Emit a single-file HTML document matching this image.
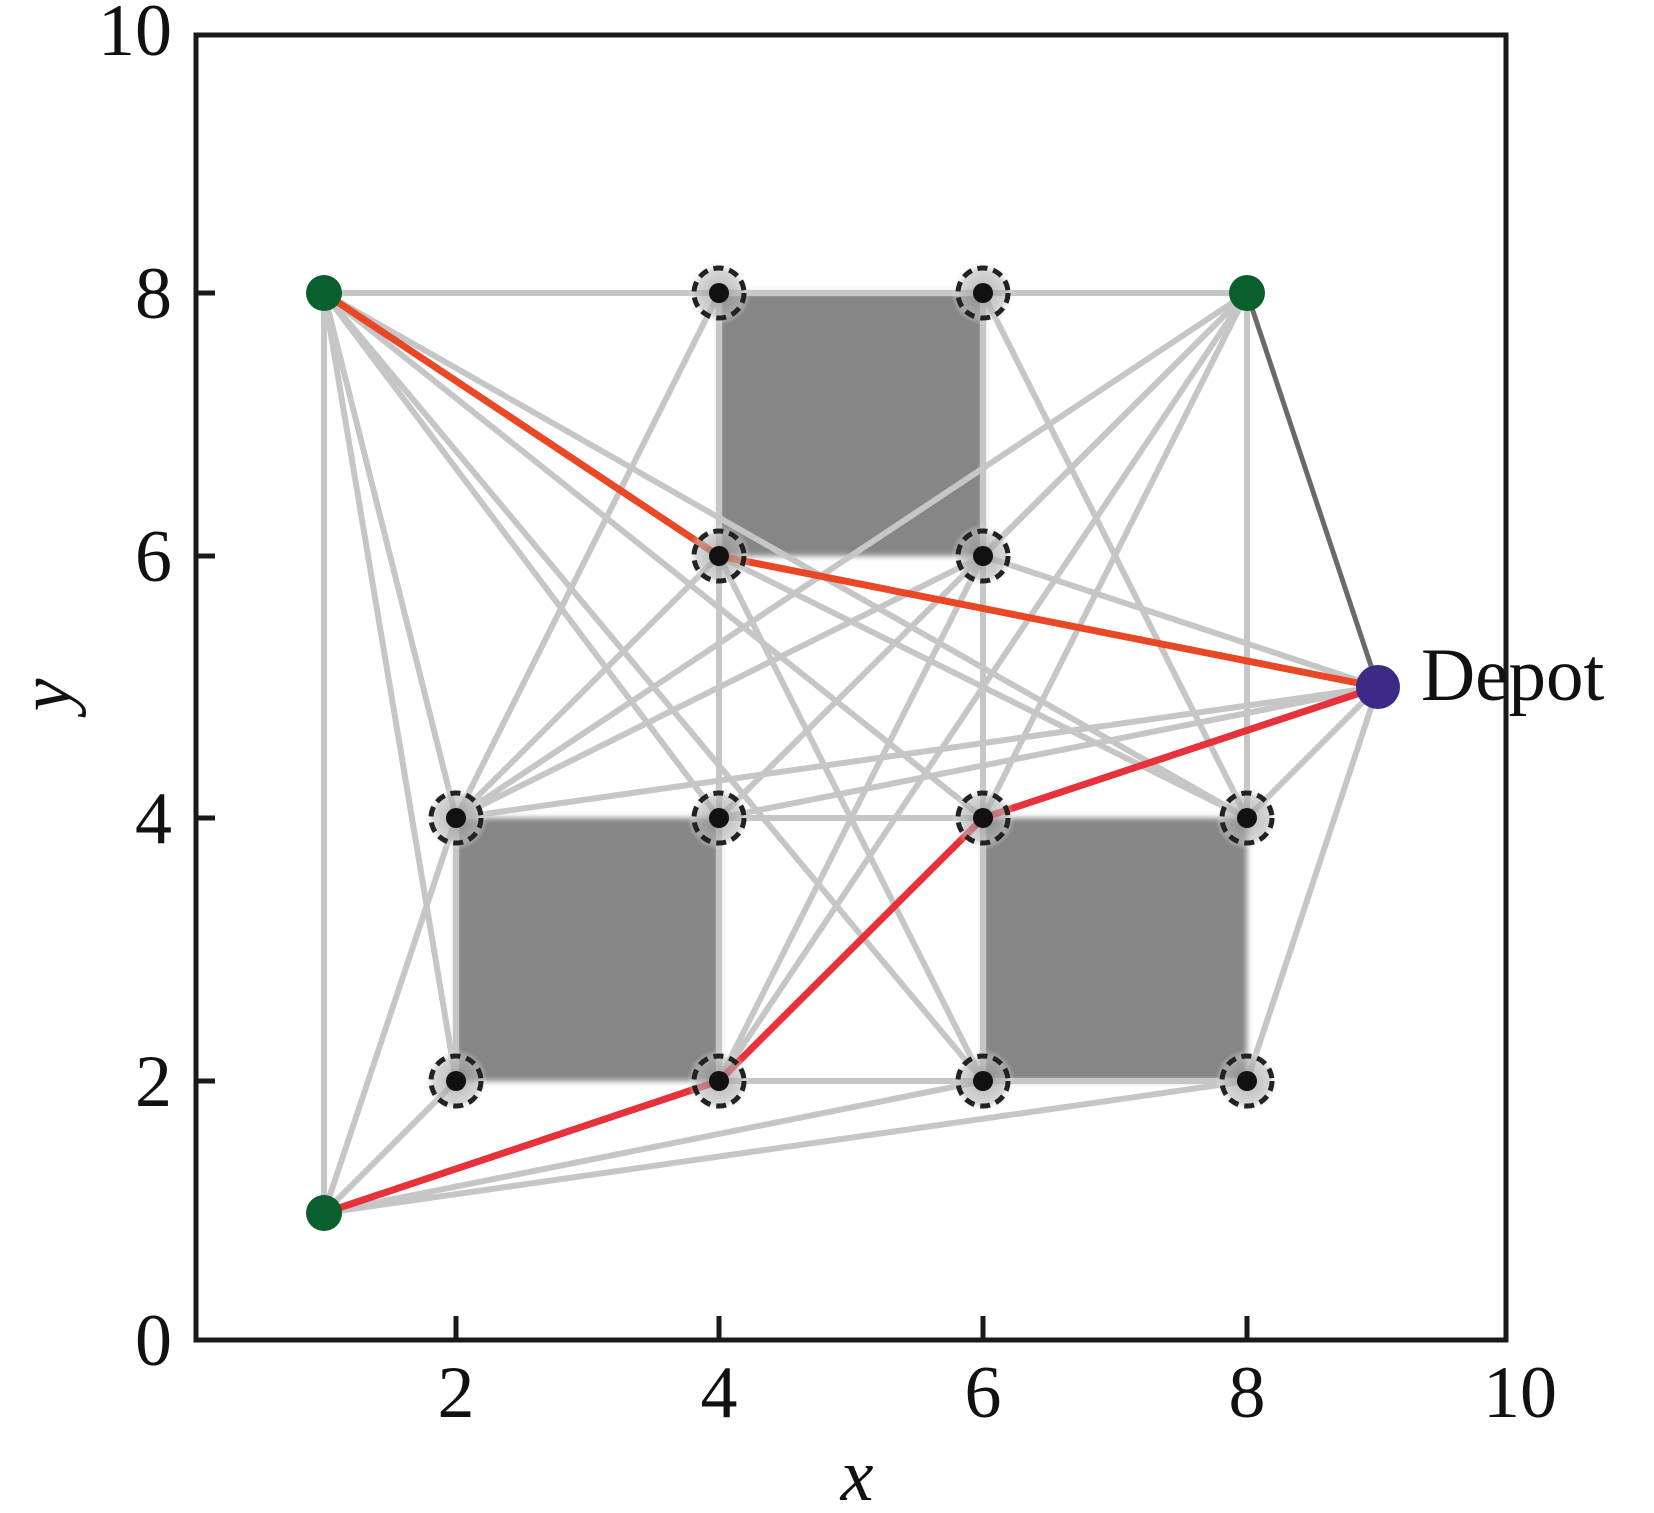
<!DOCTYPE html>
<html><head><meta charset="utf-8"><style>
html,body{margin:0;padding:0;background:#fff;}
svg{display:block;}
text{font-family:"Liberation Serif",serif;fill:#111;}
</style></head><body>
<svg width="1654" height="1513" viewBox="0 0 1654 1513" xmlns="http://www.w3.org/2000/svg">
<defs>
<filter id="bl" x="-5%" y="-5%" width="110%" height="110%"><feGaussianBlur stdDeviation="3"/></filter>
<radialGradient id="halo"><stop offset="0" stop-color="#888"/><stop offset="0.7" stop-color="#bbb"/><stop offset="1" stop-color="#fff" stop-opacity="0"/></radialGradient>
</defs>
<rect width="1654" height="1513" fill="#fff"/>
<g fill="#868686" filter="url(#bl)">
<rect x="719" y="293" width="264" height="263"/>
<rect x="456" y="818" width="263" height="263"/>
<rect x="983" y="818" width="264" height="263"/>
</g>
<g stroke="#c6c6c6" stroke-width="6" fill="none" stroke-linecap="round">
<line x1="324" y1="293" x2="1247" y2="293"/>
<line x1="324" y1="293" x2="324" y2="1213"/>
<line x1="324" y1="293" x2="456" y2="818"/>
<line x1="324" y1="293" x2="456" y2="1081"/>
<line x1="324" y1="293" x2="719" y2="818"/>
<line x1="324" y1="293" x2="983" y2="818"/>
<line x1="324" y1="293" x2="983" y2="1081"/>
<line x1="324" y1="293" x2="1247" y2="818"/>
<line x1="1247" y1="293" x2="983" y2="556"/>
<line x1="1247" y1="293" x2="719" y2="818"/>
<line x1="1247" y1="293" x2="456" y2="818"/>
<line x1="1247" y1="293" x2="983" y2="818"/>
<line x1="1247" y1="293" x2="719" y2="1081"/>
<line x1="1247" y1="293" x2="1247" y2="818"/>
<line x1="324" y1="1213" x2="456" y2="1081"/>
<line x1="324" y1="1213" x2="456" y2="818"/>
<line x1="324" y1="1213" x2="983" y2="1081"/>
<line x1="324" y1="1213" x2="1247" y2="1081"/>
<line x1="1378" y1="687" x2="456" y2="818"/>
<line x1="1378" y1="687" x2="719" y2="818"/>
<line x1="1378" y1="687" x2="983" y2="556"/>
<line x1="1378" y1="687" x2="1247" y2="818"/>
<line x1="1378" y1="687" x2="1247" y2="1081"/>
<line x1="719" y1="293" x2="456" y2="818"/>
<line x1="719" y1="293" x2="719" y2="1081"/>
<line x1="983" y1="293" x2="983" y2="1081"/>
<line x1="983" y1="293" x2="1247" y2="818"/>
<line x1="719" y1="556" x2="983" y2="1081"/>
<line x1="719" y1="556" x2="1247" y2="818"/>
<line x1="719" y1="556" x2="456" y2="818"/>
<line x1="456" y1="818" x2="983" y2="556"/>
<line x1="719" y1="818" x2="983" y2="818"/>
<line x1="456" y1="818" x2="456" y2="1081"/>
<line x1="719" y1="1081" x2="983" y2="556"/>
<line x1="719" y1="1081" x2="983" y2="1081"/>
<line x1="983" y1="1081" x2="1247" y2="1081"/>
</g>
<line x1="1247" y1="293" x2="1378" y2="687" stroke="#6a6a6a" stroke-width="5"/>
<polyline points="324,293 719,556 1378,687" fill="none" stroke="#e84826" stroke-width="7" stroke-linejoin="round"/>
<polyline points="324,1213 719,1081 983,818 1378,687" fill="none" stroke="#e63238" stroke-width="7" stroke-linejoin="round"/>
<g>
<g transform="translate(719,293)"><circle r="32" fill="url(#halo)" opacity="0.6"/><circle r="25" fill="none" stroke="#222" stroke-width="5" stroke-dasharray="10 6"/><circle r="10" fill="#111"/></g>
<g transform="translate(983,293)"><circle r="32" fill="url(#halo)" opacity="0.6"/><circle r="25" fill="none" stroke="#222" stroke-width="5" stroke-dasharray="10 6"/><circle r="10" fill="#111"/></g>
<g transform="translate(719,556)"><circle r="32" fill="url(#halo)" opacity="0.6"/><circle r="25" fill="none" stroke="#222" stroke-width="5" stroke-dasharray="10 6"/><circle r="10" fill="#111"/></g>
<g transform="translate(983,556)"><circle r="32" fill="url(#halo)" opacity="0.6"/><circle r="25" fill="none" stroke="#222" stroke-width="5" stroke-dasharray="10 6"/><circle r="10" fill="#111"/></g>
<g transform="translate(456,818)"><circle r="32" fill="url(#halo)" opacity="0.6"/><circle r="25" fill="none" stroke="#222" stroke-width="5" stroke-dasharray="10 6"/><circle r="10" fill="#111"/></g>
<g transform="translate(719,818)"><circle r="32" fill="url(#halo)" opacity="0.6"/><circle r="25" fill="none" stroke="#222" stroke-width="5" stroke-dasharray="10 6"/><circle r="10" fill="#111"/></g>
<g transform="translate(983,818)"><circle r="32" fill="url(#halo)" opacity="0.6"/><circle r="25" fill="none" stroke="#222" stroke-width="5" stroke-dasharray="10 6"/><circle r="10" fill="#111"/></g>
<g transform="translate(1247,818)"><circle r="32" fill="url(#halo)" opacity="0.6"/><circle r="25" fill="none" stroke="#222" stroke-width="5" stroke-dasharray="10 6"/><circle r="10" fill="#111"/></g>
<g transform="translate(456,1081)"><circle r="32" fill="url(#halo)" opacity="0.6"/><circle r="25" fill="none" stroke="#222" stroke-width="5" stroke-dasharray="10 6"/><circle r="10" fill="#111"/></g>
<g transform="translate(719,1081)"><circle r="32" fill="url(#halo)" opacity="0.6"/><circle r="25" fill="none" stroke="#222" stroke-width="5" stroke-dasharray="10 6"/><circle r="10" fill="#111"/></g>
<g transform="translate(983,1081)"><circle r="32" fill="url(#halo)" opacity="0.6"/><circle r="25" fill="none" stroke="#222" stroke-width="5" stroke-dasharray="10 6"/><circle r="10" fill="#111"/></g>
<g transform="translate(1247,1081)"><circle r="32" fill="url(#halo)" opacity="0.6"/><circle r="25" fill="none" stroke="#222" stroke-width="5" stroke-dasharray="10 6"/><circle r="10" fill="#111"/></g>
</g>
<circle cx="324" cy="293" r="18" fill="#0a5f2e"/>
<circle cx="1247" cy="293" r="18" fill="#0a5f2e"/>
<circle cx="324" cy="1213" r="18" fill="#0a5f2e"/>
<rect x="1390" y="682" width="5" height="14" fill="#111"/>
<circle cx="1378" cy="687" r="22" fill="#3d2a84"/>
<rect x="196" y="35" width="1310" height="1305" fill="none" stroke="#1a1a1a" stroke-width="5"/>
<g stroke="#1a1a1a" stroke-width="5">
<line x1="456" y1="1340" x2="456" y2="1316"/>
<line x1="719" y1="1340" x2="719" y2="1316"/>
<line x1="983" y1="1340" x2="983" y2="1316"/>
<line x1="1247" y1="1340" x2="1247" y2="1316"/>
<line x1="196" y1="293" x2="215" y2="293"/>
<line x1="196" y1="556" x2="215" y2="556"/>
<line x1="196" y1="818" x2="215" y2="818"/>
<line x1="196" y1="1081" x2="215" y2="1081"/>
</g>
<g font-size="74" text-anchor="end">
<text x="172" y="55">10</text>
<text x="172" y="318">8</text>
<text x="172" y="581">6</text>
<text x="172" y="843">4</text>
<text x="172" y="1106">2</text>
<text x="172" y="1365">0</text>
</g>
<g font-size="74" text-anchor="middle">
<text x="456" y="1417">2</text>
<text x="719" y="1417">4</text>
<text x="983" y="1417">6</text>
<text x="1247" y="1417">8</text>
<text x="1520" y="1417">10</text>
</g>
<text x="857" y="1500" font-size="74" font-style="italic" text-anchor="middle">x</text>
<text transform="translate(70,695) rotate(-90)" font-size="74" font-style="italic" text-anchor="middle">y</text>
<text x="1421" y="700" font-size="75">Depot</text>
</svg>
</body></html>
